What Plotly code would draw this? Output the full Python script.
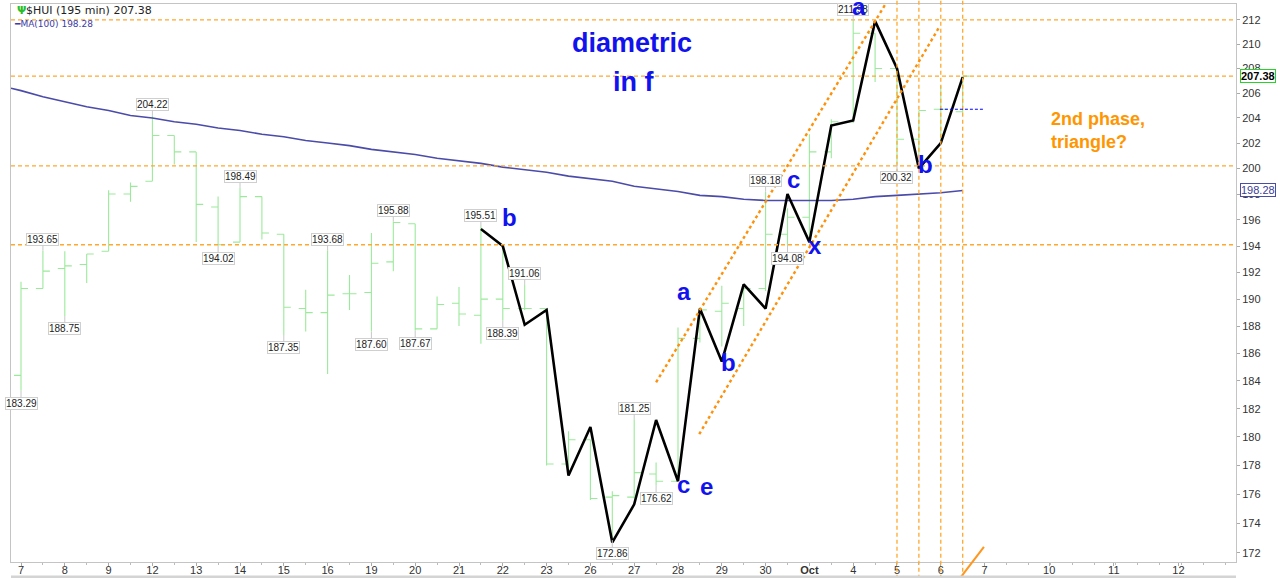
import numpy as np
import plotly.graph_objects as go

# ---------------- data ----------------
day_labels = ["7", "8", "9", "12", "13", "14", "15", "16", "19", "20", "21", "22",
              "23", "26", "27", "28", "29", "30", "<b>Oct</b>", "4", "5", "6", "7"]
future_labels = ["10", "11", "12"]

# 195-minute bars (two per trading day)
opens = [184.4, 190.8, 192.3, 192.6, 193.6, 198.0, 199.0, 202.6, 201.3, 197.0,
         194.3, 197.8, 194.9, 189.3, 189.0, 190.4, 190.5, 192.8, 195.7, 187.8,
         189.7, 188.8, 190.0, 189.3, 189.3, 178.1, 179.8, 175.8, 175.8, 177.4,
         176.9, 187.1, 189.1, 189.3, 190.8, 194.9, 196.2, 201.3, 203.7, 210.9,
         208.0, 202.3, 204.7, 204.5]
highs = [191.3, 193.65, 193.6, 193.4, 198.3, 198.9, 204.22, 202.6, 201.3, 197.8,
         198.49, 197.8, 194.9, 190.7, 193.68, 191.8, 195.0, 195.88, 195.7, 190.2,
         190.9, 195.51, 194.0, 191.06, 189.3, 180.4, 179.8, 176.2, 181.25, 178.2,
         187.9, 189.4, 191.0, 191.0, 198.18, 196.9, 202.7, 203.9, 211.98, 210.9,
         208.0, 204.6, 206.6, 207.4]
lows = [183.29, 190.8, 188.75, 191.2, 193.6, 197.4, 199.0, 200.3, 194.3, 194.02,
        194.3, 194.5, 187.35, 187.6, 184.5, 189.2, 187.60, 192.1, 187.67, 187.8,
        188.0, 186.7, 188.39, 189.2, 178.0, 177.8, 175.6, 172.86, 175.7, 176.62,
        176.9, 186.8, 186.5, 188.0, 190.6, 194.08, 194.2, 200.8, 203.6, 206.9,
        200.32, 200.3, 202.1, 204.4]
closes = [190.8, 192.1, 192.5, 193.4, 198.0, 198.6, 202.6, 201.3, 197.2, 194.1,
          197.8, 195.0, 189.4, 189.0, 190.3, 190.4, 192.7, 195.8, 187.8, 189.6,
          188.9, 190.0, 189.3, 189.3, 178.1, 179.8, 175.7, 175.9, 177.5, 176.9,
          187.1, 189.2, 189.7, 190.8, 194.9, 196.2, 201.3, 203.7, 210.9, 208.0,
          202.3, 204.6, 204.7, 207.38]
# MA(100) sampled at each bar, first value at the left edge of the chart
ma_left_edge = 206.4
ma100 = [206.2, 205.7, 205.3, 204.9, 204.6, 204.2, 204.0, 203.7, 203.5, 203.2,
         203.0, 202.7, 202.5, 202.2, 202.0, 201.8, 201.5, 201.3, 201.1, 200.8,
         200.6, 200.4, 200.1, 199.9, 199.7, 199.4, 199.2, 199.0, 198.6, 198.4,
         198.2, 197.9, 197.8, 197.6, 197.5, 197.5, 197.5, 197.5, 197.6, 197.8,
         197.9, 198.0, 198.1, 198.28]

# hand-drawn wave path (one vertex per bar, bars 21..43)
wave_start = 21
wave_vals = [195.3, 194.0, 188.1, 189.2, 177.3, 180.7, 172.7, 175.3, 181.2, 176.9,
             189.3, 185.4, 191.1, 189.3, 198.0, 194.3, 203.4, 203.8, 211.9, 208.0,
             200.0, 202.0, 207.3]

# price call-outs (bar index)
label_high_bars = [1, 6, 10, 14, 17, 21, 23, 28, 34, 38]
label_low_bars = [0, 2, 9, 12, 16, 18, 22, 27, 29, 35, 40]

# horizontal levels, vertical day markers
h_levels = [212.0, 207.38, 200.2, 194.1]
v_marks = [40, 41, 42, 43]

# wave labels: (text, bar position, price)
wave_labels = [("b", 22.30, 196.15), ("a", 30.28, 190.54), ("b", 32.32, 185.30),
               ("c", 30.26, 176.64), ("e", 31.32, 176.50), ("c", 35.27, 199.12),
               ("x", 36.26, 194.04), ("a", 38.27, 213.14), ("b", 41.32, 200.30)]

# trend channel (bar position, price)
channel_upper = [(29.0, 183.9), (39.59, 213.67)]
channel_lower = [(30.97, 180.2), (41.96, 211.5)]
mid_marker = [(41.96, 204.7), (43.93, 204.7)]

y_ticks = list(range(172, 213, 2))

# ---------------- figure ----------------
GREEN = "rgb(155,234,155)"
ORANGE = "rgb(255,168,45)"
BLUE = "#1212EE"
n = len(opens)
bar_x = list(range(n))
X_MIN, X_MAX = -0.457, 55.48

fig = go.Figure()
fig.add_trace(go.Ohlc(
    x=bar_x, open=opens, high=highs, low=lows, close=closes,
    increasing=dict(line=dict(color=GREEN, width=1.1)),
    decreasing=dict(line=dict(color=GREEN, width=1.1)),
    tickwidth=0.32, showlegend=False, hoverinfo="skip"))
fig.add_trace(go.Scatter(
    x=[X_MIN] + bar_x, y=[ma_left_edge] + ma100, mode="lines",
    line=dict(color="rgb(75,75,170)", width=1.6),
    showlegend=False, hoverinfo="skip"))
fig.add_trace(go.Scatter(
    x=list(range(wave_start, wave_start + len(wave_vals))), y=wave_vals,
    mode="lines", line=dict(color="black", width=2.6), showlegend=False,
    hoverinfo="skip"))

shapes = []
for lv in h_levels:
    shapes.append(dict(type="line", xref="paper", yref="y", x0=0, x1=1, y0=lv, y1=lv,
                       line=dict(color=ORANGE, width=1.3, dash="4px,3px")))
for vm in v_marks:
    shapes.append(dict(type="line", xref="x", yref="paper", x0=vm, x1=vm, y0=-0.03, y1=1.008,
                       line=dict(color=ORANGE, width=1.3, dash="4px,3px")))
for ch in (channel_upper, channel_lower):
    shapes.append(dict(type="line", xref="x", yref="y", x0=ch[0][0], y0=ch[0][1],
                       x1=ch[1][0], y1=ch[1][1],
                       line=dict(color="rgb(255,145,10)", width=2.4, dash="3px,3px")))
shapes.append(dict(type="line", xref="x", yref="y", x0=mid_marker[0][0], y0=mid_marker[0][1],
                   x1=mid_marker[1][0], y1=mid_marker[1][1],
                   line=dict(color="blue", width=1, dash="3px,2px")))
shapes.append(dict(type="line", xref="x", yref="paper", x0=42.88, y0=-0.029, x1=43.97, y1=0.027,
                   line=dict(color="rgb(255,150,30)", width=2)))
shapes.append(dict(type="line", xref="paper", yref="paper", x0=0, y0=-0.027, x1=1, y1=-0.027,
                   line=dict(color="#d4d4d4", width=3)))

ann = []
for i in label_high_bars:
    v = highs[i]
    ann.append(dict(x=i, y=np.log10(v), text=f"{v:.2f}", showarrow=True, arrowhead=0,
                    arrowwidth=1, arrowcolor="#c8c8c8", ax=0, ay=-11,
                    font=dict(size=10, color="#222", family="Liberation Sans, Arial"),
                    bgcolor="white", bordercolor="#cfcfcf", borderwidth=1, borderpad=0))
for i in label_low_bars:
    v = lows[i]
    ann.append(dict(x=i, y=np.log10(v), text=f"{v:.2f}", showarrow=True, arrowhead=0,
                    arrowwidth=1, arrowcolor="#c8c8c8", ax=0, ay=13,
                    font=dict(size=10, color="#222", family="Liberation Sans, Arial"),
                    bgcolor="white", bordercolor="#cfcfcf", borderwidth=1, borderpad=0))
for t, xx, yy in wave_labels:
    ann.append(dict(x=xx, y=np.log10(yy), text=f"<b>{t}</b>", showarrow=False,
                    font=dict(size=24, color=BLUE, family="Liberation Sans, Arial")))
ann.append(dict(x=27.89, y=np.log10(210.09), text="<b>diametric</b>", showarrow=False,
                font=dict(size=27, color=BLUE, family="Liberation Sans, Arial")))
ann.append(dict(x=27.95, y=np.log10(206.9), text="<b>in f</b>", showarrow=False,
                font=dict(size=27, color=BLUE, family="Liberation Sans, Arial")))
ann.append(dict(x=46.94, y=np.log10(202.96), text="<b>2nd phase,<br>triangle?</b>",
                showarrow=False, xanchor="left", align="left",
                font=dict(size=18, color="rgb(255,150,0)", family="Liberation Sans, Arial")))
# right-axis value boxes
ann.append(dict(xref="paper", x=1, xshift=4, xanchor="left", y=np.log10(closes[-1]),
                text=f"<b>{closes[-1]:.2f}</b>", showarrow=False, bgcolor="white",
                bordercolor="rgb(40,210,40)", borderwidth=1, borderpad=0,
                font=dict(size=11, color="black", family="Liberation Sans, Arial")))
ann.append(dict(xref="paper", x=1, xshift=4, xanchor="left", y=np.log10(ma100[-1]),
                text=f"{ma100[-1]:.2f}", showarrow=False, bgcolor="white",
                bordercolor="rgb(75,75,170)", borderwidth=1, borderpad=0,
                font=dict(size=11, color="rgb(60,60,150)", family="Liberation Sans, Arial")))
# top-left legend
ann.append(dict(xref="paper", yref="paper", x=0.0035, y=0.9892, xanchor="left", yanchor="middle",
                text="<b>Ψ</b>", showarrow=False,
                font=dict(size=11, color="rgb(40,190,40)", family="DejaVu Sans")))
ann.append(dict(xref="paper", yref="paper", x=0.0105, y=0.9892, xanchor="left", yanchor="middle",
                text=f"$HUI (195 min) {closes[-1]:.2f}", showarrow=False,
                font=dict(size=11, color="#222", family="DejaVu Sans")))
ann.append(dict(xref="paper", yref="paper", x=0.0012, y=0.9645, xanchor="left", yanchor="middle",
                text=f"<b>━</b>MA(100) {ma100[-1]:.2f}", showarrow=False,
                font=dict(size=9, color="rgb(60,60,170)", family="DejaVu Sans")))

tick_vals = [2 * k for k in range(len(day_labels))] + [46.95, 49.9, 52.85]
tick_text = day_labels + future_labels

fig.update_layout(
    width=1280, height=578, autosize=False,
    margin=dict(l=11, r=44, t=4, b=16, autoexpand=False),
    paper_bgcolor="white", plot_bgcolor="white",
    shapes=shapes, annotations=ann, showlegend=False,
    font=dict(family="Liberation Sans, Arial", color="#333"),
    xaxis=dict(range=[X_MIN, X_MAX], tickmode="array", tickvals=tick_vals,
               ticktext=tick_text, showgrid=False, zeroline=False, automargin=False,
               showline=True, linecolor="#c4c4c4", mirror=True,
               ticks="outside", ticklen=3, tickcolor="#aaa", ticklabelstandoff=-5,
               tickfont=dict(size=11, color="#333"),
               minor=dict(dtick=1, tick0=0, ticks="outside", ticklen=2, tickcolor="#bbb"),
               rangeslider=dict(visible=False), fixedrange=True),
    yaxis=dict(type="log", range=[np.log10(171.38), np.log10(213.33)], side="right",
               tickmode="array", tickvals=y_ticks, ticktext=[str(v) for v in y_ticks],
               showgrid=False, zeroline=False, showline=True, linecolor="#c4c4c4",
               mirror=True, ticks="outside", ticklen=3, tickcolor="#aaa", automargin=False,
               tickfont=dict(size=11, color="#333"), fixedrange=True),
)

fig.write_html("out.html", config={"displayModeBar": False},
               post_script="document.body.style.margin='0';document.body.style.padding='0';")
